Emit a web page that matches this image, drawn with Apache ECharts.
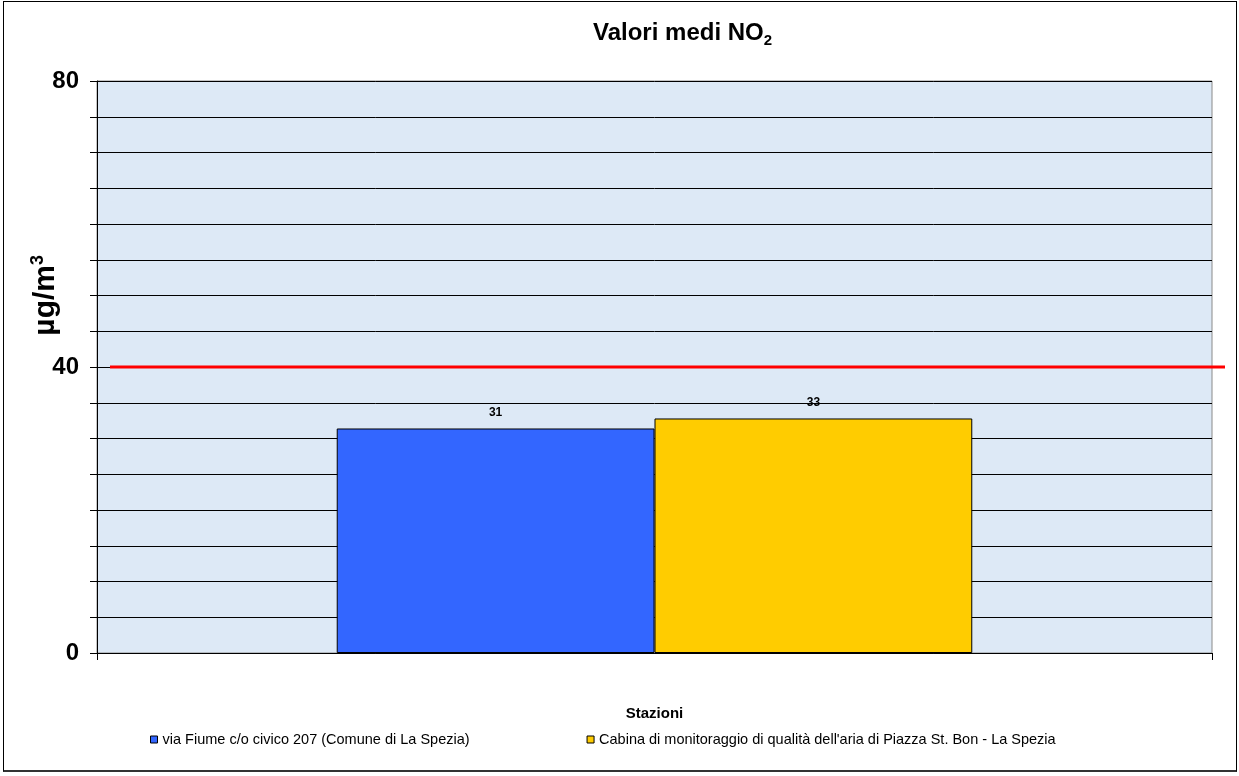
<!DOCTYPE html>
<html><head><meta charset="utf-8">
<script src="https://cdn.jsdelivr.net/npm/echarts@6/dist/echarts.min.js"></script>
<style>html,body{margin:0;padding:0;background:#fff}#c{width:1239px;height:776px}
#frame{position:absolute;left:3px;top:1px;width:1232px;height:768px;border:1px solid #000;border-bottom:2px solid #333;pointer-events:none}</style>
</head><body><div id="c"></div><div id="frame"></div>
<script>
const categories = ['Stazioni'];
const seriesNames = ['via Fiume c/o civico 207 (Comune di La Spezia)', "Cabina di monitoraggio di qualità dell'aria di Piazza St. Bon - La Spezia"];
const seriesValues = [[31.4], [32.8]];
const seriesColors = ['#3366FF', '#FFCC00'];
const limitValue = 40;
const yTickLabels = [0, 40, 80];

const chart = echarts.init(document.getElementById('c'));
const font = 'Liberation Sans, Arial, sans-serif';
const barSeries = seriesNames.map((n, i) => ({
  name: n, type: 'bar', data: seriesValues[i], barGap: '0%', barCategoryGap: '43%',
  itemStyle: {color: seriesColors[i], borderColor: '#000', borderWidth: 1},
  label: {show: true, position: 'top', distance: 10, fontFamily: font, fontWeight: 'bold', fontSize: 12, color: '#000',
    formatter: p => Math.round(p.value)},
  z: 3
}));
chart.setOption({
  animation: false,
  backgroundColor: '#fff',
  title: {text: '{a|Valori medi NO}{b|2}', left: 588, top: 14,
    textStyle: {rich: {a: {fontFamily: font, fontWeight: 'bold', fontSize: 24, color: '#000'},
      b: {fontFamily: font, fontWeight: 'bold', fontSize: 15, color: '#000', padding: [14, 0, 0, 0]}}}},
  grid: [
    {left: 97, right: 27, top: 81, bottom: 123, show: true, backgroundColor: '#dde9f6', borderColor: '#8a8a8a', borderWidth: 1},
    {left: 110, right: 14, top: 81, bottom: 123, show: false}
  ],
  legend: {data: seriesNames, top: 727, left: 145, itemWidth: 7, itemHeight: 7, itemGap: 117,
    icon: 'rect', textStyle: {fontFamily: font, fontSize: 14.5, color: '#000'},
    itemStyle: {borderColor: '#000', borderWidth: 1}},
  xAxis: [
    {type: 'category', data: categories, gridIndex: 0, name: 'Stazioni', nameLocation: 'middle', nameGap: 53,
      nameTextStyle: {fontFamily: font, fontWeight: 'bold', fontSize: 15, color: '#000'},
      axisLine: {lineStyle: {color: '#000', width: 1}}, axisTick: {show: true, length: 7, lineStyle: {color: '#000'}},
      axisLabel: {show: false}},
    {type: 'value', gridIndex: 1, min: 0, max: 1, show: false}
  ],
  yAxis: [
    {type: 'value', gridIndex: 0, min: 0, max: 80, interval: 5,
      axisLine: {show: true, lineStyle: {color: '#000', width: 1}},
      axisTick: {show: true, length: 7, lineStyle: {color: '#000'}},
      axisLabel: {margin: 18, fontFamily: font, fontWeight: 'bold', fontSize: 24, color: '#000',
        formatter: v => yTickLabels.includes(v) ? String(v) : ''},
      splitLine: {show: true, lineStyle: {color: '#000', width: 1}}},
    {type: 'value', gridIndex: 1, min: 0, max: 80, show: false}
  ],
  graphic: [{type: 'text', left: 29, top: 255, rotation: Math.PI / 2,
    style: {text: '{a|µg/m}{b|3}', rich: {a: {fontFamily: font, fontWeight: 'bold', fontSize: 30, fill: '#000'},
      b: {fontFamily: font, fontWeight: 'bold', fontSize: 18, fill: '#000', padding: [0, 0, 15, 0]}}}}],
  series: barSeries.concat([{
    name: 'limite', type: 'line', xAxisIndex: 1, yAxisIndex: 1, data: [[0, limitValue], [1, limitValue]],
    showSymbol: false, symbol: 'none', lineStyle: {color: '#FF0000', width: 3}, z: 5, silent: true
  }])
});
</script></body></html>
